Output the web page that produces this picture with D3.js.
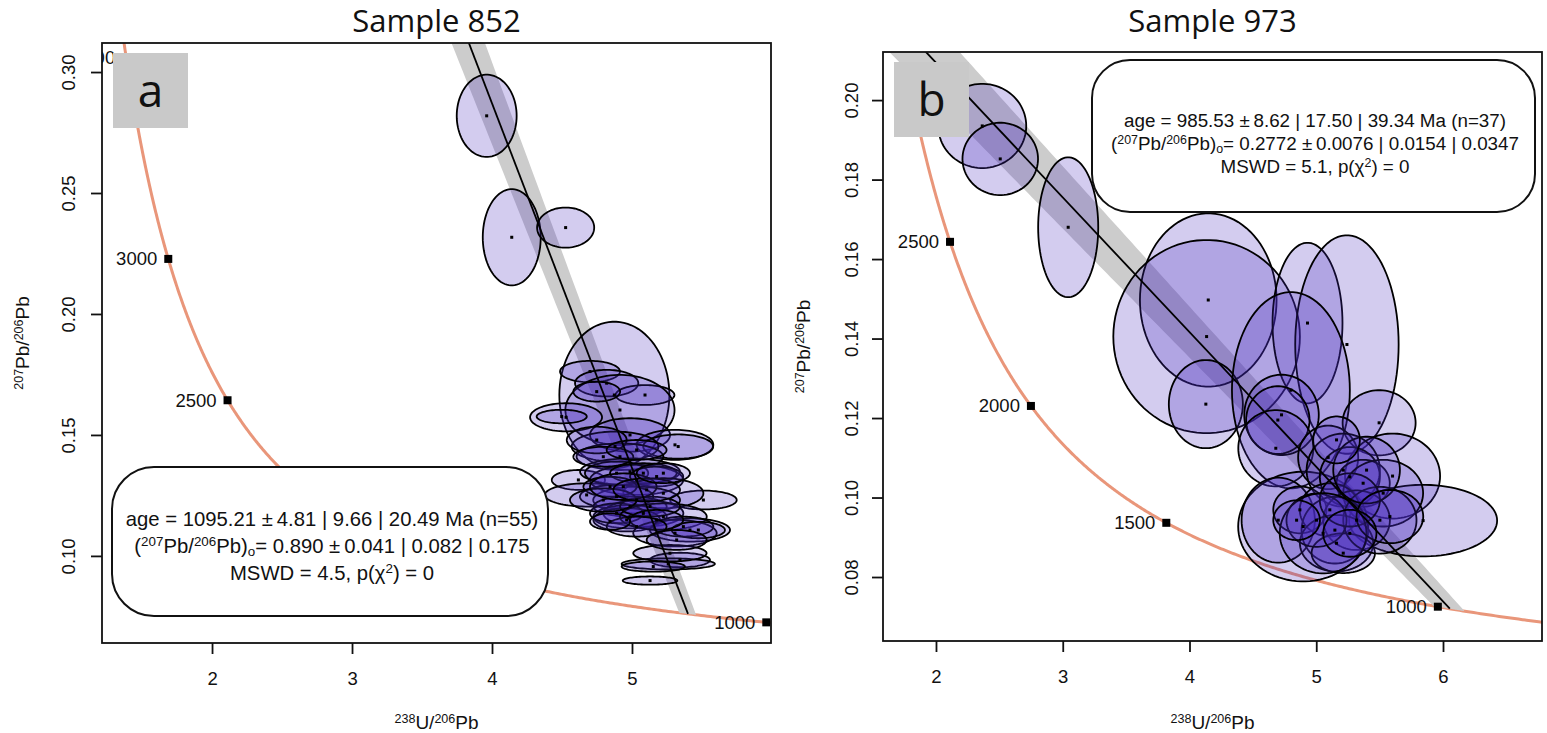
<!DOCTYPE html>
<html><head><meta charset="utf-8">
<script src="https://cdn.jsdelivr.net/npm/d3@7"></script>
<style>
body{margin:0;background:#fff;}
svg text{font-family:"Liberation Sans",Arial,Helvetica,sans-serif;fill:#111;}
.title,.tag{font-family:"Open Sans","Noto Sans",sans-serif !important;}
</style></head><body>
<svg id="chart" width="1547" height="733"></svg>
<script>
// Decay constants (per Myr) and present-day 238U/235U
const LAMBDA238 = 1.55125e-4, LAMBDA235 = 9.8485e-4, U238_U235 = 137.818;

// Concordia age ticks (Ma)
const ageTicks = [1000, 1500, 2000, 2500, 3000, 3500];

// ---- Sample 852 ----
const xTicks852 = [2, 3, 4, 5];
const yTicks852 = [0.10, 0.15, 0.20, 0.25, 0.30];
// [238U/206Pb, err, 207Pb/206Pb, err, rho]
const ellipses852 = [
  [3.962,0.214,0.2819,0.0170,0],[4.141,0.207,0.2317,0.0199,0],[4.526,0.204,0.2357,0.0083,0],
  [4.874,0.393,0.1665,0.0303,0],[4.700,0.214,0.1762,0.0044,0],[4.819,0.226,0.1714,0.0055,0],
  [5.093,0.210,0.1665,0.0041,0],[4.914,0.390,0.1603,0.0145,0],[4.529,0.257,0.1573,0.0058,0],
  [4.498,0.179,0.1576,0.0028,0],[4.986,0.286,0.1500,0.0069,0],[5.307,0.274,0.1459,0.0062,0],
  [5.330,0.250,0.1452,0.0050,0],[4.879,0.310,0.1452,0.0062,0],[4.914,0.310,0.1410,0.0055,0],
  [4.617,0.190,0.1314,0.0041,0],[4.676,0.298,0.1252,0.0048,0],[4.986,0.357,0.1348,0.0055,0],
  [5.033,0.333,0.1314,0.0062,0],[4.890,0.226,0.1342,0.0048,0],[5.081,0.238,0.1342,0.0041,0],
  [5.176,0.190,0.1328,0.0041,0],[5.510,0.238,0.1231,0.0039,0],[5.224,0.286,0.1259,0.0062,0],
  [5.033,0.310,0.1231,0.0055,0],[4.890,0.262,0.1245,0.0048,0],[4.986,0.262,0.1204,0.0041,0],
  [5.081,0.286,0.1176,0.0055,0],[4.986,0.262,0.1162,0.0048,0],[4.962,0.238,0.1149,0.0048,0],
  [4.890,0.190,0.1176,0.0041,0],[5.224,0.310,0.1162,0.0055,0],[5.414,0.286,0.1107,0.0048,0],
  [5.307,0.298,0.1094,0.0055,0],[5.367,0.214,0.1121,0.0041,0],[5.474,0.190,0.1107,0.0034,0],
  [5.129,0.214,0.1204,0.0041,0],[4.843,0.190,0.1286,0.0041,0],[5.343,0.214,0.0983,0.0030,0],
  [5.259,0.333,0.0967,0.0023,0],[5.152,0.226,0.0956,0.0021,0],[5.129,0.195,0.0898,0.0017,0],
  [5.271,0.262,0.1011,0.0034,0],[4.748,0.214,0.1479,0.0055,0],[4.795,0.214,0.1410,0.0041,0],
  [4.795,0.238,0.1231,0.0048,0],[4.938,0.238,0.1286,0.0055,0],[5.105,0.238,0.1273,0.0048,0],
  [5.224,0.190,0.1342,0.0041,0],[5.033,0.214,0.1438,0.0041,0],[5.176,0.190,0.1149,0.0041,0],
  [5.033,0.214,0.1121,0.0041,0],[4.843,0.143,0.1142,0.0034,0],[5.319,0.214,0.1066,0.0041,0],
  [4.748,0.167,0.1679,0.0041,0]
];
// isochron fit: lower intercept age (Ma) and common-Pb intercept
const fit852 = {age: 1095.21, ageErr: [4.81, 9.66, 20.49], n: 55,
                pb0: 0.890, pb0Err: [0.041, 0.082, 0.175], mswd: 4.5, p: 0};
const band852 = [0.041, 0.0086];   // envelope half-width at x=0 and at the concordia

// ---- Sample 973 ----
const xTicks973 = [2, 3, 4, 5, 6];
const yTicks973 = [0.08, 0.10, 0.12, 0.14, 0.16, 0.18, 0.20];
const ellipses973 = [
  [2.365,0.347,0.1935,0.0106,0],[2.507,0.298,0.1852,0.0091,0],[3.043,0.237,0.1680,0.0176,0],
  [4.148,0.539,0.1497,0.0218,0],[4.135,0.736,0.1405,0.0243,0],[4.129,0.292,0.1235,0.0111,0],
  [4.931,0.276,0.1439,0.0202,0],[5.242,0.408,0.1385,0.0275,0],[4.800,0.465,0.1270,0.0247,0],
  [4.726,0.294,0.1208,0.0101,0],[4.697,0.250,0.1195,0.0085,0],[4.681,0.296,0.1124,0.0096,0],
  [5.496,0.288,0.1188,0.0082,0],[5.602,0.375,0.1054,0.0107,0],[5.843,0.584,0.0942,0.0090,0],
  [4.897,0.513,0.0927,0.0138,0],[4.700,0.289,0.0943,0.0107,0],
  [5.094,0.237,0.1101,0.0080,0],[5.213,0.289,0.1069,0.0092,0],[5.265,0.237,0.1052,0.0075,0],
  [5.370,0.210,0.1036,0.0059,0],[5.528,0.315,0.1011,0.0084,0],[4.871,0.210,0.0969,0.0059,0],
  [5.107,0.237,0.0969,0.0067,0],[5.318,0.263,0.0943,0.0075,0],[5.147,0.263,0.0918,0.0084,0],
  [5.160,0.289,0.0885,0.0071,0],[5.213,0.250,0.0860,0.0050,0],[5.502,0.289,0.0943,0.0084,0],
  [5.002,0.237,0.0943,0.0067,0],[5.265,0.237,0.0994,0.0067,0],[5.397,0.263,0.1069,0.0084,0],
  [5.054,0.342,0.0910,0.0101,0],[5.581,0.263,0.0952,0.0067,0],[5.265,0.210,0.0910,0.0059,0],
  [4.845,0.184,0.0943,0.0050,0],[5.160,0.184,0.1145,0.0059,0]
];
const fit973 = {age: 985.53, ageErr: [8.62, 17.50, 39.34], n: 37,
                pb0: 0.2772, pb0Err: [0.0076, 0.0154, 0.0347], mswd: 5.1, p: 0};
const band973 = [0.0121, 0.0035];

// ---- layout of the two panels ----
const panels = [
  {id: "a", title: "Sample 852", tag: "a", left: 102, right: 771, top: 43, bottom: 643,
   xDomain: [1.214, 5.993], yDomain: [0.0640, 0.3120], xTicks: xTicks852, yTicks: yTicks852,
   ellipses: ellipses852, fit: fit852, band: band852, fitDigits: 3,
   legend: {x: 112, y: 467, w: 436, h: 149, r: 42, cx: 332, lines: [526, 553, 580], fs: 20.3},
   yLabelX: 29, yTickX: 27},
  {id: "b", title: "Sample 973", tag: "b", left: 883, right: 1542, top: 52, bottom: 641,
   xDomain: [1.582, 6.781], yDomain: [0.0639, 0.2121], xTicks: xTicks973, yTicks: yTicks973,
   ellipses: ellipses973, fit: fit973, band: band973, fitDigits: 4,
   legend: {x: 1092, y: 60, w: 443, h: 152, r: 38, cx: 1315, lines: [127, 150, 173], fs: 18.8},
   yLabelX: 810, yTickX: 25}
];

const svg = d3.select("#chart");
const defs = svg.append("defs");

function concordia(t) {
  const e8 = Math.exp(LAMBDA238 * t) - 1, e5 = Math.exp(LAMBDA235 * t) - 1;
  return [1 / e8, e5 / e8 / U238_U235];
}

function ellipsePoints(e, sx, sy) {
  const [cx, ex, cy, ey, rho] = e;
  return d3.range(90).map(i => {
    const th = 2 * Math.PI * i / 90;
    const dx = ex * Math.cos(th);
    const dy = ey * (rho * Math.cos(th) + Math.sqrt(1 - rho * rho) * Math.sin(th));
    return [sx(cx + dx), sy(cy + dy)];
  });
}

// text with superscripts / subscripts: parts are [text, kind], kind "", "sup" or "sub"
function richText(sel, parts, fs) {
  let shift = 0;
  parts.forEach(([txt, kind]) => {
    const t = sel.append("tspan").text(txt);
    let target = 0;
    if (kind === "sup") { t.attr("font-size", fs * 0.66); target = -0.34 * fs; }
    else if (kind === "sub") { t.attr("font-size", fs * 0.66); target = 0.15 * fs; }
    t.attr("dy", target - shift);
    shift = target;
  });
}

panels.forEach(cfg => {
  const x = d3.scaleLinear().domain(cfg.xDomain).range([cfg.left, cfg.right]);
  const y = d3.scaleLinear().domain(cfg.yDomain).range([cfg.bottom, cfg.top]);
  const g = svg.append("g");
  const L = cfg.legend;

  defs.append("clipPath").attr("id", "clip-" + cfg.id).append("rect")
    .attr("x", cfg.left).attr("y", cfg.top)
    .attr("width", cfg.right - cfg.left).attr("height", cfg.bottom - cfg.top);
  const plot = g.append("g").attr("clip-path", `url(#clip-${cfg.id})`);

  // concordia curve
  const curve = d3.range(150, 4700, 4).map(concordia);
  plot.append("path").datum(curve)
    .attr("d", d3.line().x(d => x(d[0])).y(d => y(d[1])))
    .attr("fill", "none").attr("stroke", "#E9967A").attr("stroke-width", 3);

  // isochron line and its envelope
  const f = cfg.fit;
  const [xc, yc] = concordia(f.age);
  const slope = (yc - f.pb0) / xc;
  const hw = xx => cfg.band[0] + (cfg.band[1] - cfg.band[0]) * xx / xc;
  const edge = (xx, s) => f.pb0 + slope * xx + s * hw(xx);
  // age where an envelope edge meets the concordia
  const meet = s => {
    let lo = 100, hi = 4000;
    for (let i = 0; i < 60; i++) {
      const mid = (lo + hi) / 2, c = concordia(mid);
      if (c[1] - edge(c[0], s) > 0) lo = mid; else hi = mid;
    }
    return (lo + hi) / 2;
  };
  const tUp = meet(1), tLo = meet(-1);
  const xUp = concordia(tUp)[0], xLo = concordia(tLo)[0];
  const bandPts = [];
  d3.range(0, 201).forEach(i => { const xx = xUp * i / 200; bandPts.push([xx, edge(xx, 1)]); });
  d3.range(0, 101).forEach(i => bandPts.push(concordia(tUp + (tLo - tUp) * i / 100)));
  d3.range(200, -1, -1).forEach(i => { const xx = xLo * i / 200; bandPts.push([xx, edge(xx, -1)]); });
  plot.append("path").datum(bandPts)
    .attr("d", d3.line().x(d => x(d[0])).y(d => y(d[1])))
    .attr("fill", "#cccccc").attr("stroke", "none");

  // error ellipses
  plot.append("g").selectAll("path").data(cfg.ellipses).join("path")
    .attr("d", e => d3.line().curve(d3.curveLinearClosed)(ellipsePoints(e, x, y)))
    .attr("fill", "rgb(72,40,190)").attr("fill-opacity", 0.24)
    .attr("stroke", "#000").attr("stroke-width", 1.8);
  plot.append("g").selectAll("rect").data(cfg.ellipses).join("rect")
    .attr("x", e => x(e[0]) - 1.5).attr("y", e => y(e[2]) - 1.5)
    .attr("width", 3).attr("height", 3).attr("fill", "#000");

  plot.append("line")
    .attr("x1", x(0)).attr("y1", y(f.pb0)).attr("x2", x(xc)).attr("y2", y(yc))
    .attr("stroke", "#000").attr("stroke-width", 1.8);

  // concordia age markers: those inside the plot window and not under the summary box
  const visible = t => {
    const c = concordia(t);
    if (c[0] < cfg.xDomain[0] || c[0] > cfg.xDomain[1] ||
        c[1] < cfg.yDomain[0] || c[1] > cfg.yDomain[1]) return false;
    const px = x(c[0]), py = y(c[1]);
    return !(px > L.x && px < L.x + L.w && py > L.y && py < L.y + L.h);
  };
  const marks = plot.append("g").selectAll("g").data(ageTicks.filter(visible)).join("g")
    .attr("transform", t => { const c = concordia(t); return `translate(${x(c[0])},${y(c[1])})`; });
  marks.append("rect").attr("x", -4).attr("y", -4).attr("width", 8).attr("height", 8).attr("fill", "#000");
  marks.append("text").attr("x", -11).attr("y", 6.5).attr("text-anchor", "end")
    .attr("font-size", 18.5).text(t => t);

  // frame and axes
  g.append("rect").attr("x", cfg.left).attr("y", cfg.top)
    .attr("width", cfg.right - cfg.left).attr("height", cfg.bottom - cfg.top)
    .attr("fill", "none").attr("stroke", "#111").attr("stroke-width", 1.8);

  const xa = g.append("g").attr("transform", `translate(0,${cfg.bottom})`)
    .call(d3.axisBottom(x).tickValues(cfg.xTicks).tickSize(11).tickFormat(d3.format("d")));
  xa.select(".domain").remove();
  xa.selectAll("line").attr("stroke", "#111").attr("stroke-width", 1.8);
  xa.selectAll("text").attr("y", 42).attr("dy", null).attr("font-size", 18.5).attr("fill", "#111");

  const ya = g.append("g").attr("transform", `translate(${cfg.left},0)`)
    .call(d3.axisLeft(y).tickValues(cfg.yTicks).tickSize(11).tickFormat(d3.format(".2f")));
  ya.select(".domain").remove();
  ya.selectAll("line").attr("stroke", "#111").attr("stroke-width", 1.8);
  ya.selectAll("text").attr("transform", "rotate(-90)").attr("x", 0).attr("y", -cfg.yTickX)
    .attr("dy", null).attr("text-anchor", "middle").attr("font-size", 18.5).attr("fill", "#111");

  // axis titles
  const midX = (cfg.left + cfg.right) / 2, midY = (cfg.top + cfg.bottom) / 2;
  richText(g.append("text").attr("x", midX).attr("y", 729).attr("text-anchor", "middle")
    .attr("font-size", 19), [["238", "sup"], ["U/", ""], ["206", "sup"], ["Pb", ""]], 19);
  richText(g.append("text").attr("transform", `translate(${cfg.yLabelX},${midY}) rotate(-90)`)
    .attr("text-anchor", "middle").attr("font-size", 19),
    [["207", "sup"], ["Pb/", ""], ["206", "sup"], ["Pb", ""]], 19);

  // title
  g.append("text").attr("class", "title").attr("x", midX).attr("y", 32)
    .attr("text-anchor", "middle").attr("font-size", 31).text(cfg.title);

  // panel tag
  g.append("rect").attr("x", cfg.left + 11).attr("y", cfg.top + 10).attr("width", 75).attr("height", 75)
    .attr("fill", "#c9c9c9");
  g.append("text").attr("class", "tag").attr("x", cfg.left + 48.5).attr("y", cfg.top + 64)
    .attr("text-anchor", "middle").attr("font-size", 46).text(cfg.tag);

  // fit summary
  g.append("rect").attr("x", L.x).attr("y", L.y).attr("width", L.w).attr("height", L.h)
    .attr("rx", L.r).attr("ry", L.r).attr("fill", "#fff").attr("stroke", "#111").attr("stroke-width", 2);
  const fa = d3.format(".2f"), fb = d3.format(`.${cfg.fitDigits}f`);
  const line1 = `age = ${fa(f.age)} \u00b1\u2009${f.ageErr.map(fa).join(" | ")} Ma (n=${f.n})`;
  g.append("text").attr("x", L.cx).attr("y", L.lines[0]).attr("text-anchor", "middle")
    .attr("font-size", L.fs).text(line1);
  richText(g.append("text").attr("x", L.cx).attr("y", L.lines[1]).attr("text-anchor", "middle")
    .attr("font-size", L.fs),
    [["(", ""], ["207", "sup"], ["Pb/", ""], ["206", "sup"], ["Pb)", ""], ["o", "sub"],
     [`= ${fb(f.pb0)} \u00b1\u2009${f.pb0Err.map(fb).join(" | ")}`, ""]], L.fs);
  richText(g.append("text").attr("x", L.cx).attr("y", L.lines[2]).attr("text-anchor", "middle")
    .attr("font-size", L.fs),
    [[`MSWD = ${f.mswd}, p(\u03c7`, ""], ["2", "sup"], [`) = ${f.p}`, ""]], L.fs);
});
</script>
</body></html>
